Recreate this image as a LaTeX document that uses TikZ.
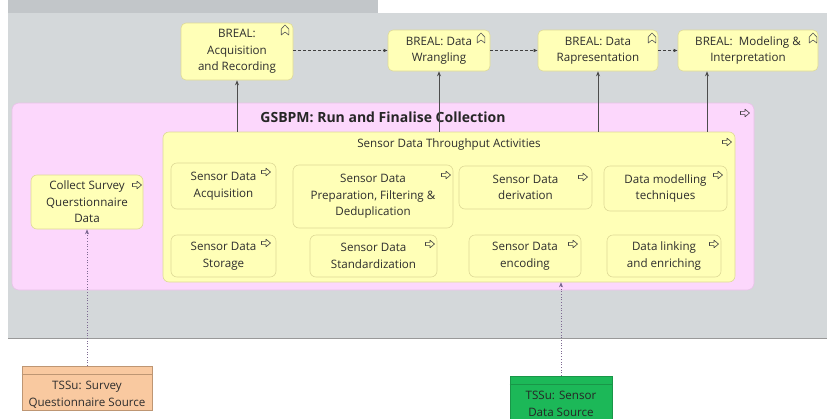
\documentclass[tikz,border=0pt]{standalone}
\usepackage{fontspec}
\setmainfont{Open Sans}
\usetikzlibrary{arrows.meta,calc}
\definecolor{bggray}{RGB}{212,216,218}
\definecolor{topgray}{RGB}{194,198,201}
\definecolor{pinkfill}{RGB}{252,215,252}
\definecolor{pinkline}{RGB}{232,195,232}
\definecolor{yelfill}{RGB}{255,255,183}
\definecolor{yelline}{RGB}{222,218,150}
\definecolor{orfill}{RGB}{249,201,160}
\definecolor{orline}{RGB}{190,150,115}
\definecolor{grfill}{RGB}{28,184,88}
\definecolor{grline}{RGB}{25,150,72}
\definecolor{txt}{RGB}{45,45,45}
\definecolor{dotc}{RGB}{125,105,145}
\tikzset{
  base/.style={inner sep=0pt, align=center, text=txt, font=\fontsize{11.6}{16.5}\selectfont},
  brealbox/.style={base, draw=yelline, fill=yelfill, rounded corners=5pt, line width=0.6pt},
  actbox/.style={base, draw=yelline, fill=yelfill, rounded corners=6pt, line width=0.6pt},
  srcbox/.style={base, rectangle, line width=0.6pt},
  dasharrow/.style={draw=black!75, dashed, line width=0.6pt, dash pattern=on 3pt off 2pt, -{Latex[length=4pt,width=3.5pt]}},
  solarrow/.style={draw=black!70, line width=0.7pt, -{Stealth[length=5pt,width=4pt]}},
  dotarrow/.style={draw=dotc, dotted, line width=0.7pt, -{Stealth[length=5pt,width=4pt]}},
  procicon/.pic={\draw[line width=0.6pt, draw=black!75, line join=round]
     (-4.5,-1.6) -- (0,-1.6) -- (0,-3.8) -- (4.5,0) -- (0,3.8) -- (0,1.6) -- (-4.5,1.6) -- cycle;},
  valicon/.pic={\draw[line width=0.6pt, draw=black!65, line join=round]
     (-3.8,5) -- (-3.8,-1) -- (0,-5) -- (3.8,-1) -- (3.8,5) -- (0,2) -- cycle;}
}
\begin{document}
\begin{tikzpicture}[x=1pt,y=-1pt]
\useasboundingbox (0,0) rectangle (827,418);
% backgrounds
\fill[white] (0,0) rectangle (827,418);
\fill[bggray] (8,13) rectangle (827,338);
\fill[topgray] (8,0) rectangle (378,13);
\draw[black!40, line width=0.6pt] (8,338) -- (827,338);

% BREAL nodes
\node[brealbox, minimum width=112pt, minimum height=57pt] (b1) at (237,51.5) {BREAL:\\Acquisition\\and Recording};
\node[brealbox, minimum width=102pt, minimum height=41pt] (b2) at (439,50.5) {BREAL: Data\\Wrangling};
\node[brealbox, minimum width=120pt, minimum height=41pt] (b3) at (598,50.5) {BREAL: Data\\Rapresentation};
\node[brealbox, minimum width=140pt, minimum height=41pt] (b4) at (748,50.5) {BREAL:\ \ Modeling \&\\Interpretation};
\pic at (285,30) {valicon};
\pic at (481,38) {valicon};
\pic at (652,38) {valicon};
\pic at (813,38) {valicon};

% GSBPM container
\node[draw=pinkline, fill=pinkfill, rounded corners=7pt, line width=0.6pt, minimum width=742pt, minimum height=187pt, inner sep=0pt] (pink) at (383,196.5) {};
\node[base, font=\fontsize{14}{16}\selectfont\bfseries, text=black!85] (pinkt) at (383,117) {GSBPM: Run and Finalise Collection};
\pic at (745,113) {procicon};

% Sensor throughput container
\node[actbox, minimum width=572pt, minimum height=150pt] (ybig) at (449,207) {};
\node[base] (ybigt) at (449,144) {Sensor Data Throughput Activities};
\pic at (727,142) {procicon};

% inner activities
\node[actbox, minimum width=105pt, minimum height=46pt] (acq) at (223.5,186) {Sensor Data\\Acquisition};
\node[actbox, minimum width=160pt, minimum height=63pt] (prep) at (373,196.5) {Sensor Data\\Preparation, Filtering \&\\Deduplication};
\node[actbox, minimum width=133pt, minimum height=43pt] (deriv) at (525.5,187.5) {Sensor Data\\derivation};
\node[actbox, minimum width=123pt, minimum height=45pt] (model) at (665.5,188.5) {Data modelling\\techniques};
\node[actbox, minimum width=105pt, minimum height=42pt] (stor) at (223.5,256) {Sensor Data\\Storage};
\node[actbox, minimum width=127pt, minimum height=42pt] (stand) at (373.5,256) {Sensor Data\\Standardization};
\node[actbox, minimum width=112pt, minimum height=42pt] (enc) at (525,256) {Sensor Data\\encoding};
\node[actbox, minimum width=114pt, minimum height=42pt] (link) at (664,256) {Data linking\\and enriching};
\node[actbox, minimum width=112pt, minimum height=54pt] (coll) at (87,202) {Collect Survey\\Querstionnaire\\Data};

\pic at (266,172) {procicon};
\pic at (446,175) {procicon};
\pic at (583,177) {procicon};
\pic at (718,175) {procicon};
\pic at (266,243) {procicon};
\pic at (430,244) {procicon};
\pic at (573,244) {procicon};
\pic at (714,244) {procicon};
\pic at (137,185) {procicon};

% sources
\node[srcbox, draw=orline, fill=orfill, minimum width=130pt, minimum height=44pt] (srcQ) at (87,388) {};
\draw[orline, line width=0.5pt] ($(srcQ.north west)+(0,9)$) -- ($(srcQ.north east)+(0,9)$);
\node[base] (srcQt) at (87,395) {TSSu: Survey\\Questionnaire Source};
\node[srcbox, draw=grline, fill=grfill, minimum width=102pt, minimum height=48pt] (srcS) at (561,400) {};
\draw[grline, line width=0.5pt] ($(srcS.north west)+(0,9)$) -- ($(srcS.north east)+(0,9)$);
\node[base, text=black!85] (srcSt) at (561,404) {TSSu: Sensor\\Data Source};

% connectors
\draw[dasharrow] (b1.east |- b2.west) -- (b2.west);
\draw[dasharrow] (b2.east) -- (b3.west);
\draw[dasharrow] (b3.east) -- (b4.west);
\draw[solarrow] (ybig.north -| b1.south) -- (b1.south);
\draw[solarrow] (ybig.north -| b2.south) -- (b2.south);
\draw[solarrow] (ybig.north -| b3.south) -- (b3.south);
\draw[solarrow] (ybig.north -| {$(b4.south)+(-41,0)$}) -- ($(b4.south)+(-41,0)$);
\draw[dotarrow] (srcQ.north) -- (coll.south);
\draw[dotarrow] (srcS.north) -- (ybig.south -| srcS.north);
\end{tikzpicture}
\end{document}
